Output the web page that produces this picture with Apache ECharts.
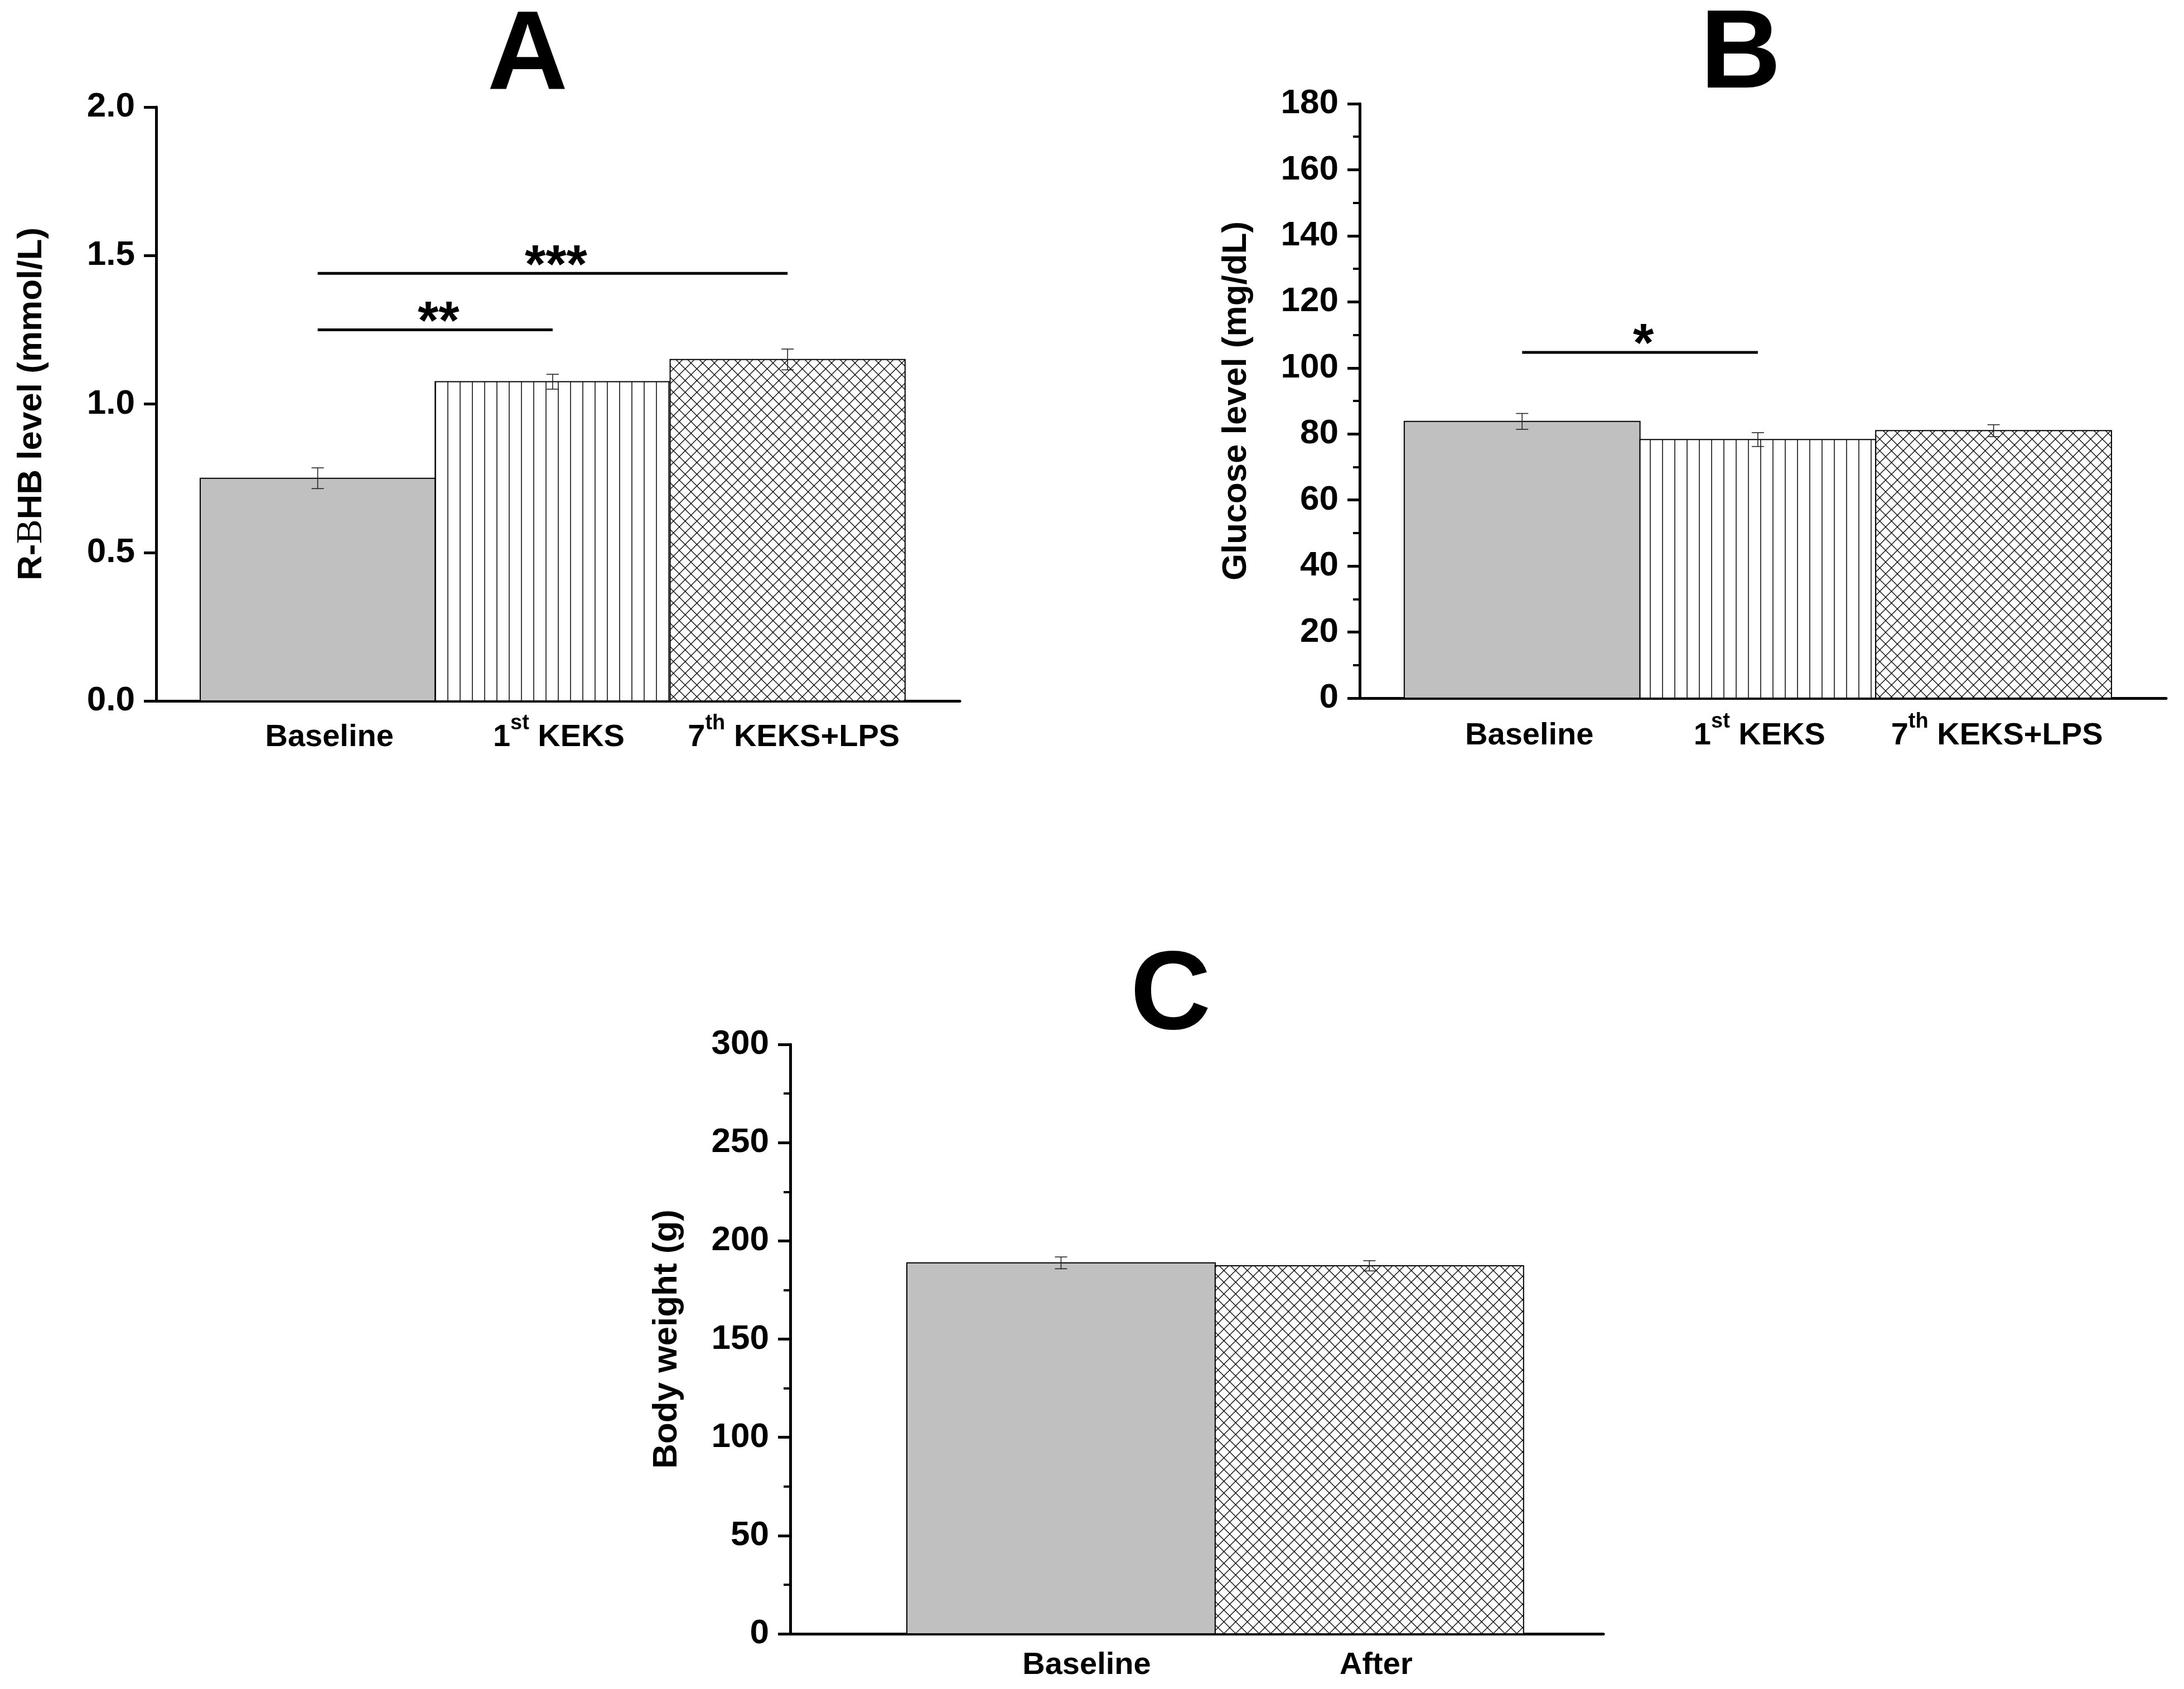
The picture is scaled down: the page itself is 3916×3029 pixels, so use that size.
<!DOCTYPE html>
<html>
<head>
<meta charset="utf-8">
<script src="https://cdn.jsdelivr.net/npm/echarts@6/dist/echarts.min.js"></script>
<style>
  html, body { margin: 0; padding: 0; background: #fff; }
  #chart { width: 3916px; height: 3029px; }
</style>
</head>
<body>
<div id="chart"></div>
<script>
// panel A: R-BHB
var rbhbCategories = ['Baseline', '1st KEKS', '7th KEKS+LPS'];
var rbhbMean = [0.75, 1.075, 1.15];
var rbhbErr = [0.035, 0.025, 0.035];
var rbhbTicks = [0, 0.5, 1.0, 1.5, 2.0];
var rbhbSig = [[0, 1, 1.25, '**'], [0, 2, 1.44, '***']];

// panel B: glucose
var glucoseCategories = ['Baseline', '1st KEKS', '7th KEKS+LPS'];
var glucoseMean = [83.8, 78.3, 81.0];
var glucoseErr = [2.4, 2.1, 1.8];
var glucoseTicks = [0, 20, 40, 60, 80, 100, 120, 140, 160, 180];
var glucoseSig = [[0, 1, 104.7, '*']];

// panel C: body weight
var weightCategories = ['Baseline', 'After'];
var weightMean = [188.8, 187.3];
var weightErr = [3.0, 2.6];
var weightTicks = [0, 50, 100, 150, 200, 250, 300];

var threeFills = ['solid', 'vlines', 'cross'];
var twoFills = ['solid', 'cross'];

// layout: label nudges (px) per panel
var layoutA = { labelDx: [21, 11, 11], labelDy: 22 };
var layoutB = { labelDx: [13, 3, 6], labelDy: 24 };
var layoutC = { labelDx: [46, 12], labelDy: 13 };

var FONT = "'Liberation Sans', Arial, Helvetica, sans-serif";

function makePattern(kind) {
  var c = document.createElement('canvas');
  var s = kind === 'vlines' ? 22 : 21;
  c.width = s; c.height = s;
  var ctx = c.getContext('2d');
  ctx.fillStyle = '#fff';
  ctx.fillRect(0, 0, s, s);
  ctx.strokeStyle = '#000';
  ctx.beginPath();
  if (kind === 'vlines') {
    ctx.lineWidth = 1.5;
    ctx.moveTo(s / 2, 0); ctx.lineTo(s / 2, s);
  } else {
    ctx.lineWidth = 1.3;
    [-s, 0, s].forEach(function (d) {
      ctx.moveTo(d, 0); ctx.lineTo(d + s, s);
      ctx.moveTo(d + s, 0); ctx.lineTo(d, s);
    });
  }
  ctx.stroke();
  return { image: c, repeat: 'repeat' };
}
var patterns = { vlines: makePattern('vlines'), cross: makePattern('cross') };

function richLabel(s) {
  var m = s.match(/^(\d+)(st|nd|rd|th)(.*)$/);
  return m ? '{n|' + m[1] + '}{s|' + m[2] + '}{n|' + m[3] + '}' : '{n|' + s + '}';
}
var labelRich = {
  n: { fontSize: 56, fontWeight: 'bold', fontFamily: FONT, fill: '#000', lineHeight: 72, verticalAlign: 'bottom' },
  s: { fontSize: 38, fontWeight: 'bold', fontFamily: FONT, fill: '#000', lineHeight: 32, verticalAlign: 'top' }
};

function barSeries(idx, cats, means, errs, fills, layout) {
  return {
    type: 'custom',
    xAxisIndex: idx,
    yAxisIndex: idx,
    clip: false,
    data: means.map(function (m, i) { return [i, m, errs[i]]; }),
    encode: { x: 0, y: 1 },
    renderItem: function (params, api) {
      var i = api.value(0), v = api.value(1), e = api.value(2);
      var tl = api.coord([i, v]);
      var br = api.coord([i + 1, 0]);
      var cx = api.coord([i + 0.5, v])[0];
      var lo = api.coord([i + 0.5, v - e])[1];
      var hi = api.coord([i + 0.5, v + e])[1];
      var cap = 11;
      var fill = fills[i] === 'solid' ? '#c0c0c0' : patterns[fills[i]];
      var err = { stroke: '#222', lineWidth: 1.6 };
      return {
        type: 'group',
        children: [
          { type: 'rect', shape: { x: tl[0], y: tl[1], width: br[0] - tl[0], height: br[1] - tl[1] },
            style: { fill: fill, stroke: '#000', lineWidth: 2 } },
          { type: 'line', shape: { x1: cx, y1: lo, x2: cx, y2: hi }, style: err },
          { type: 'line', shape: { x1: cx - cap, y1: lo, x2: cx + cap, y2: lo }, style: err },
          { type: 'line', shape: { x1: cx - cap, y1: hi, x2: cx + cap, y2: hi }, style: err },
          { type: 'text', x: cx + layout.labelDx[i], y: br[1] + layout.labelDy,
            style: { text: richLabel(cats[i]), rich: labelRich, align: 'center', verticalAlign: 'top',
                     fontSize: 56, fontWeight: 'bold', fontFamily: FONT, fill: '#000' } }
        ]
      };
    }
  };
}

function sigSeries(idx, sig) {
  return {
    type: 'custom',
    xAxisIndex: idx,
    yAxisIndex: idx,
    clip: false,
    data: sig.map(function (d) { return [d[0], d[1], d[2]]; }),
    encode: { x: [0, 1], y: 2 },
    renderItem: function (params, api) {
      var a = api.coord([api.value(0) + 0.5, api.value(2)]);
      var b = api.coord([api.value(1) + 0.5, api.value(2)]);
      return {
        type: 'group',
        children: [
          { type: 'line', shape: { x1: a[0], y1: a[1], x2: b[0], y2: b[1] }, style: { stroke: '#000', lineWidth: 5 } },
          { type: 'text', x: (a[0] + b[0]) / 2 + 6, y: a[1] - 11,
            style: { text: sig[params.dataIndex][3], align: 'center', verticalAlign: 'middle',
                     fontSize: 96, fontWeight: 'bold', fontFamily: FONT, fill: '#000' } }
        ]
      };
    }
  };
}

function xAxisCfg(idx, n, padL, padR) {
  return {
    type: 'value', gridIndex: idx, min: -padL, max: n + padR,
    axisLine: { show: true, onZero: false, lineStyle: { color: '#000', width: 5 } },
    axisTick: { show: false }, axisLabel: { show: false }, splitLine: { show: false }
  };
}

function yAxisCfg(idx, ticks, name, nameRich, minor, digits) {
  return {
    type: 'value', gridIndex: idx,
    min: ticks[0], max: ticks[ticks.length - 1], interval: ticks[1] - ticks[0],
    name: name, nameLocation: 'middle', nameGap: 190, nameRotate: 90,
    nameTextStyle: { fontSize: 62, fontWeight: 'bold', fontFamily: FONT, color: '#000', rich: nameRich },
    axisLine: { show: true, onZero: false, lineStyle: { color: '#000', width: 5 } },
    axisTick: { show: true, length: 22, lineStyle: { color: '#000', width: 5 } },
    minorTick: { show: minor, splitNumber: 2, length: 12, lineStyle: { color: '#000', width: 4 } },
    axisLabel: { margin: 38, fontSize: 62, fontWeight: 'bold', fontFamily: FONT, color: '#000',
                 formatter: function (v) { return v.toFixed(digits); } },
    splitLine: { show: false }, minorSplitLine: { show: false }
  };
}

var nameRichA = {
  n: { fontSize: 62, fontWeight: 'bold', fontFamily: FONT, color: '#000' },
  g: { fontSize: 66, fontWeight: 'normal', fontFamily: "'Liberation Serif', 'Times New Roman', serif", color: '#000' }
};

var chart = echarts.init(document.getElementById('chart'));
chart.setOption({
  backgroundColor: '#fff',
  animation: false,
  grid: [
    { left: 280, top: 192, width: 1441, height: 1065, outerBoundsMode: 'none' },
    { left: 2438, top: 186, width: 1446, height: 1066, outerBoundsMode: 'none' },
    { left: 1417, top: 1873, width: 1458, height: 1057, outerBoundsMode: 'none' }
  ],
  xAxis: [
    xAxisCfg(0, rbhbCategories.length, 0.1875, 0.233),
    xAxisCfg(1, glucoseCategories.length, 0.189, 0.232),
    xAxisCfg(2, weightCategories.length, 0.378, 0.259)
  ],
  yAxis: [
    yAxisCfg(0, rbhbTicks, '{n|R-}{g|\u0392}{n|HB level (mmol/L)}', nameRichA, false, 1),
    yAxisCfg(1, glucoseTicks, 'Glucose level (mg/dL)', null, true, 0),
    yAxisCfg(2, weightTicks, 'Body weight (g)', null, true, 0)
  ],
  graphic: [
    { type: 'text', x: 946, y: 104, style: { text: 'A', fontSize: 200, fontWeight: 'bold', fontFamily: FONT, fill: '#000', align: 'center', verticalAlign: 'middle' } },
    { type: 'text', x: 3121, y: 102, style: { text: 'B', fontSize: 200, fontWeight: 'bold', fontFamily: FONT, fill: '#000', align: 'center', verticalAlign: 'middle' } },
    { type: 'text', x: 2099, y: 1790, style: { text: 'C', fontSize: 200, fontWeight: 'bold', fontFamily: FONT, fill: '#000', align: 'center', verticalAlign: 'middle' } }
  ],
  series: [
    barSeries(0, rbhbCategories, rbhbMean, rbhbErr, threeFills, layoutA),
    sigSeries(0, rbhbSig),
    barSeries(1, glucoseCategories, glucoseMean, glucoseErr, threeFills, layoutB),
    sigSeries(1, glucoseSig),
    barSeries(2, weightCategories, weightMean, weightErr, twoFills, layoutC)
  ]
});
</script>
</body>
</html>
